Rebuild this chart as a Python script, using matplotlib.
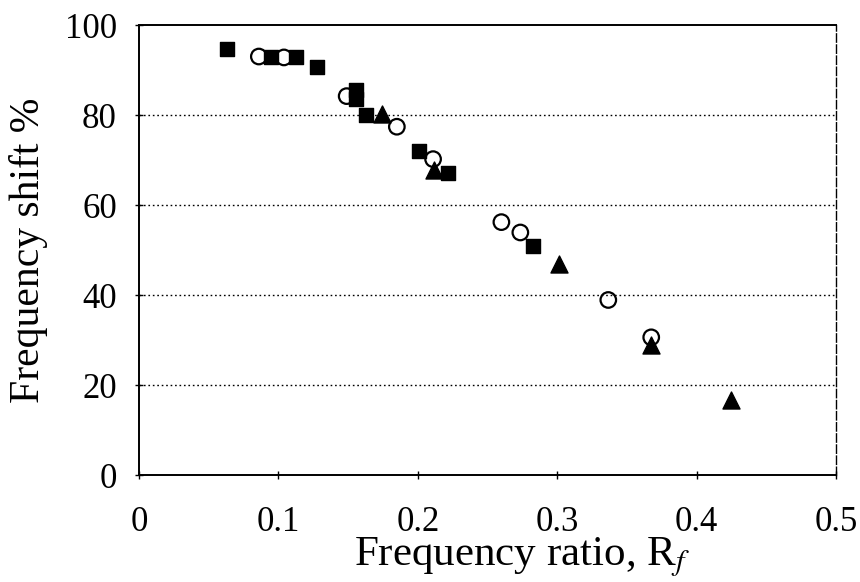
import matplotlib
matplotlib.use("Agg")
import matplotlib.pyplot as plt

plt.rcParams['font.family'] = ['Liberation Serif', 'DejaVu Serif']
plt.rcParams['mathtext.fontset'] = 'stix'

# Filled squares
sq_x = [0.063, 0.095, 0.113, 0.1275, 0.156, 0.156, 0.163, 0.201, 0.222, 0.283]
sq_y = [94.6, 93.0, 92.8, 90.6, 85.5, 83.5, 79.9, 72.0, 67.2, 51.0]

# Open circles
ci_x = [0.086, 0.104, 0.149, 0.185, 0.211, 0.260, 0.2736, 0.3367, 0.3675]
ci_y = [93.0, 92.8, 84.2, 77.4, 70.2, 56.2, 53.9, 38.9, 30.6]

# Filled triangles
tr_x = [0.174, 0.212, 0.301, 0.3675, 0.4248]
tr_y = [80.3, 67.7, 46.8, 29.0, 16.6]

xticks = [0, 0.1, 0.2, 0.3, 0.4, 0.5]
xticklabels = ['0', '0.1', '0.2', '0.3', '0.4', '0.5']
yticks = [0, 20, 40, 60, 80, 100]

fig = plt.figure(figsize=(8.6, 5.82), dpi=100)
ax = fig.add_axes([0.1616, 0.1838, 0.8104, 0.7732])

ax.scatter(ci_x, ci_y, s=125, marker='o', facecolors='none', edgecolors='black',
           linewidths=1.6, zorder=3)
ax.scatter(sq_x, sq_y, s=110, marker='s', color='black', zorder=4)
ax.scatter(tr_x, tr_y, s=150, marker='^', color='black', zorder=5)

ax.set_xlim(0, 0.5)
ax.set_ylim(0, 100)
ax.set_xticks(xticks)
ax.set_xticklabels(xticklabels)
ax.set_yticks(yticks)

for y in yticks[1:-1]:
    ax.axhline(y, color='black', linestyle=(0, (1.2, 2.0)), linewidth=1.0, zorder=1)

for side in ['left', 'bottom', 'top']:
    ax.spines[side].set_linewidth(1.4)
    ax.spines[side].set_color('black')
ax.spines['right'].set_linewidth(1.0)
ax.spines['right'].set_linestyle((0, (6, 2)))

ax.tick_params(axis='both', direction='inout', length=6, width=1.0,
               labelsize=25, colors='black')
ax.tick_params(axis='x', pad=19)
ax.tick_params(axis='y', pad=13)

ax.set_xlabel('Frequency ratio, R$_{f}$', fontsize=31)
ax.xaxis.set_label_coords(0.55, -0.135)
ax.set_ylabel('Frequency shift %', fontsize=30, labelpad=12)

fig.savefig('out.png', dpi=100)
